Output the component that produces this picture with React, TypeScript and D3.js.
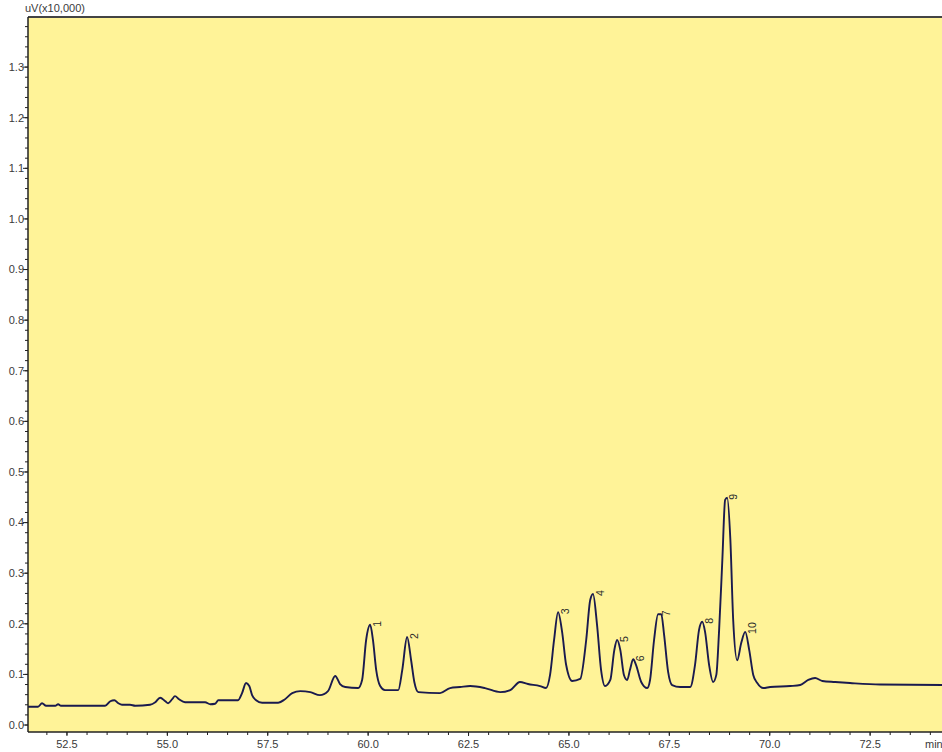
import React from "react";
import * as d3 from "d3";

// Chromatogram trace: retention time (min) and signal (uV x10,000)
const times = [
  51.53, 51.78, 51.88, 51.98, 52.21, 52.28, 52.35, 53.45, 53.58, 53.68, 53.78, 53.87,
  54.07, 54.2, 54.57, 54.7, 54.82, 54.95, 55.02, 55.12, 55.19, 55.29, 55.44, 55.94,
  56.07, 56.19, 56.27, 56.76, 56.86, 56.96, 57.04, 57.11, 57.21, 57.36, 57.76, 57.93,
  58.11, 58.31, 58.56, 58.8, 59.0, 59.18, 59.3, 59.43, 59.75, 59.85, 59.95, 60.05,
  60.12, 60.2, 60.3, 60.42, 60.75, 60.85, 60.97, 61.07, 61.15, 61.25, 61.79, 62.04,
  62.29, 62.54, 62.91, 63.29, 63.54, 63.78, 63.98, 64.28, 64.43, 64.53, 64.63, 64.73,
  64.83, 64.93, 65.08, 65.28, 65.43, 65.53, 65.6, 65.7, 65.8, 65.9, 66.03, 66.13,
  66.2, 66.28, 66.37, 66.45, 66.52, 66.6, 66.67, 66.8, 66.95, 67.02, 67.12, 67.22,
  67.3, 67.37, 67.47, 67.57, 67.77, 68.02, 68.14, 68.24, 68.32, 68.39, 68.49, 68.59,
  68.67, 68.74, 68.82, 68.89, 68.94, 69.02, 69.09, 69.19, 69.29, 69.39, 69.49, 69.59,
  69.69, 69.84, 70.01, 70.51, 70.76, 70.96, 71.13, 71.31, 71.63, 72.0, 72.75, 74.4,
];
const signal = [
  0.036, 0.036, 0.043, 0.038, 0.038, 0.041, 0.038, 0.038, 0.047, 0.049, 0.043, 0.04,
  0.04, 0.038, 0.04, 0.045, 0.054, 0.047, 0.043, 0.051, 0.057, 0.051, 0.045, 0.045,
  0.041, 0.042, 0.049, 0.049, 0.063, 0.083, 0.077, 0.059, 0.049, 0.044, 0.044, 0.051,
  0.063, 0.067, 0.065, 0.059, 0.067, 0.097, 0.081, 0.075, 0.073, 0.089, 0.168, 0.198,
  0.168, 0.109, 0.077, 0.069, 0.069, 0.109, 0.174, 0.128, 0.085, 0.065, 0.063, 0.073,
  0.075, 0.077, 0.073, 0.065, 0.069, 0.085, 0.081, 0.077, 0.073, 0.099, 0.168, 0.223,
  0.184, 0.119, 0.087, 0.091, 0.168, 0.247, 0.259, 0.198, 0.109, 0.077, 0.089, 0.148,
  0.168, 0.148, 0.099, 0.089, 0.109, 0.13, 0.119, 0.085, 0.073, 0.089, 0.168, 0.219,
  0.219, 0.178, 0.105, 0.079, 0.075, 0.075, 0.119, 0.188, 0.204, 0.184, 0.119, 0.085,
  0.099, 0.188, 0.326, 0.445, 0.449, 0.366, 0.208, 0.128, 0.162, 0.184, 0.148, 0.099,
  0.083, 0.073, 0.075, 0.077, 0.079, 0.089, 0.093, 0.087, 0.085, 0.083, 0.08, 0.079,
];

// Peak labels
const peakNames = ["1", "2", "3", "4", "5", "6", "7", "8", "9", "10"];
const peakTimes = [60.05, 60.97, 64.73, 65.6, 66.2, 66.6, 67.26, 68.32, 68.92, 69.39];
const peakHeights = [0.198, 0.174, 0.223, 0.259, 0.168, 0.13, 0.219, 0.204, 0.449, 0.184];

const xMajorTicks = [52.5, 55.0, 57.5, 60.0, 62.5, 65.0, 67.5, 70.0, 72.5];
const yMajorTicks = [0.0, 0.1, 0.2, 0.3, 0.4, 0.5, 0.6, 0.7, 0.8, 0.9, 1.0, 1.1, 1.2, 1.3];
const yUnitLabel = "uV(x10,000)";
const xUnitLabel = "min";

const W = 942;
const H = 752;
const left = 28;
const top = 17;
const right = 942;
const bottom = 732;

export default function App() {
  const x = d3.scaleLinear().domain([51.53, 74.29]).range([left, right]);
  const y = d3.scaleLinear().domain([-0.0138, 1.399]).range([bottom, top]);

  const pts: [number, number][] = times.map((t, i) => [t, signal[i]]);
  const path = d3
    .line<[number, number]>()
    .x((d) => x(d[0]))
    .y((d) => y(d[1]))
    .curve(d3.curveMonotoneX)(pts) as string;

  const xMinor = d3.range(51.5, 74.5, 0.5).filter((v) => x(v) >= left && x(v) <= right);
  const yMinor = d3.range(0, 1.4001, 0.02).filter((v) => y(v) >= top && y(v) <= bottom);

  const font = "Arial, 'Liberation Sans', sans-serif";
  const textCol = "#3a3a3a";
  const axisCol = "#222";

  return (
    <svg
      width={W}
      height={H}
      style={{ position: "absolute", left: 0, top: 0, background: "#fff" }}
    >
      <rect x={left} y={top} width={right - left} height={bottom - top} fill="#FFF398" />
      <clipPath id="plotclip">
        <rect x={left} y={top} width={right - left} height={bottom - top} />
      </clipPath>
      <path
        d={path}
        fill="none"
        stroke="#1a1a4e"
        strokeWidth={1.9}
        strokeLinejoin="round"
        clipPath="url(#plotclip)"
      />
      {peakNames.map((n, i) => {
        const px = x(peakTimes[i]) + 7;
        const py = y(peakHeights[i]) + 2;
        return (
          <text
            key={n}
            transform={`translate(${px},${py}) rotate(-90)`}
            fontFamily={font}
            fontSize={10.5}
            fill="#2a2a2a"
            dy="0.35em"
          >
            {n}
          </text>
        );
      })}
      <line x1={left} x2={right} y1={top} y2={top} stroke="#444" strokeWidth={2} />
      <line x1={left} x2={left} y1={top} y2={bottom} stroke={axisCol} strokeWidth={1.5} />
      <line x1={left} x2={right} y1={bottom} y2={bottom} stroke={axisCol} strokeWidth={1.5} />
      {yMinor.map((v, i) => (
        <line key={"ym" + i} x1={left - 3} x2={left} y1={y(v)} y2={y(v)} stroke={axisCol} strokeWidth={1} />
      ))}
      {yMajorTicks.map((v) => (
        <g key={"y" + v}>
          <line x1={left - 5} x2={left} y1={y(v)} y2={y(v)} stroke={axisCol} strokeWidth={1} />
          <text
            x={left - 4}
            y={y(v)}
            dy="0.35em"
            textAnchor="end"
            fontFamily={font}
            fontSize={11}
            fill={textCol}
          >
            {v.toFixed(1)}
          </text>
        </g>
      ))}
      {xMinor.map((v, i) => (
        <line key={"xm" + i} x1={x(v)} x2={x(v)} y1={bottom} y2={bottom + 3} stroke={axisCol} strokeWidth={1} />
      ))}
      {xMajorTicks.map((v) => (
        <g key={"x" + v}>
          <line x1={x(v)} x2={x(v)} y1={bottom} y2={bottom + 4} stroke={axisCol} strokeWidth={1} />
          <text
            x={x(v)}
            y={bottom + 16}
            textAnchor="middle"
            fontFamily={font}
            fontSize={11}
            fill={textCol}
          >
            {v.toFixed(1)}
          </text>
        </g>
      ))}
      <text x={925} y={bottom + 16} fontFamily={font} fontSize={11} fill={textCol}>
        {xUnitLabel}
      </text>
      <text x={25} y={12} fontFamily={font} fontSize={11} fill={textCol}>
        {yUnitLabel}
      </text>
    </svg>
  );
}
